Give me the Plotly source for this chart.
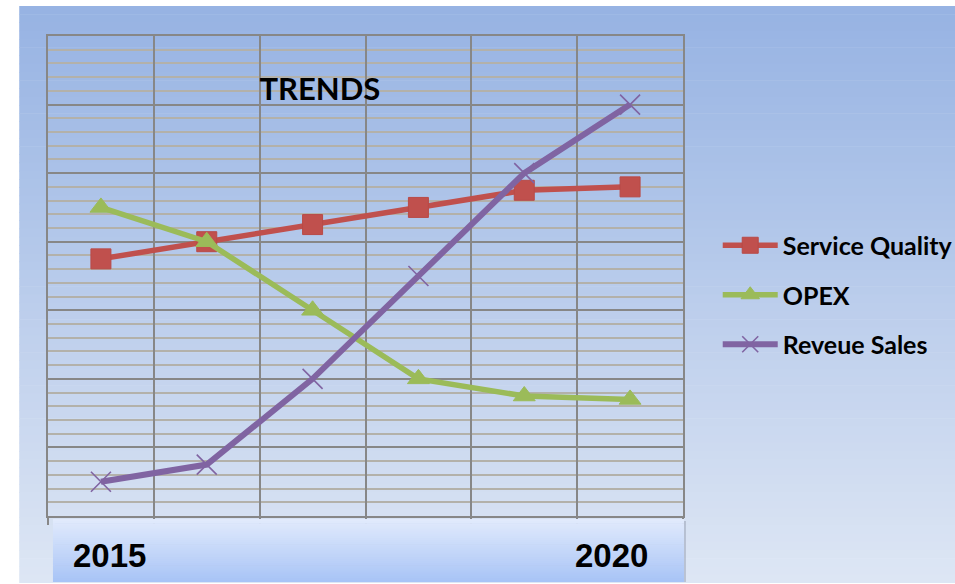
import plotly.graph_objects as go

# ---- data ----
years = [2015, 2016, 2017, 2018, 2019, 2020]
service_quality = [37.5, 40, 42.5, 45, 47.5, 48]
opex = [45, 40, 30, 20, 17.5, 17]
revenue_sales = [5, 7.5, 20, 35, 50, 60]
series_names = ["Service Quality", "OPEX", "Reveue Sales"]
title_text = "TRENDS"

SX = 970 / 955  # horizontal compensation
W, H = 970, 584
L, R, T, B = 47 * SX, 687 * SX, 36, 516  # plot area in px


def px_x(px):
    return (px * SX - L) / (R - L)


def px_y(py):
    return (B - py) / (B - T)


def lerp(c1, c2, t):
    return "rgb(%d,%d,%d)" % tuple(round(a + (b - a) * t) for a, b in zip(c1, c2))


shapes = []
# background gradient (stripes)
bg_top, bg_bot = (151, 179, 227), (221, 230, 244)
y_top, y_bot = 6, 583
n = 70
for i in range(n):
    ya = y_top + (y_bot - y_top) * i / n
    yb = y_top + (y_bot - y_top) * (i + 1) / n + 0.6
    shapes.append(dict(type="rect", xref="paper", yref="paper",
                       x0=px_x(18), x1=px_x(990), y0=px_y(min(yb, y_bot)), y1=px_y(ya),
                       fillcolor=lerp(bg_top, bg_bot, i / (n - 1)), line=dict(width=0),
                       layer="below"))

# category label box (gradient) with shadow
bx0, bx1, by0, by1 = 52, 688, 519, 582
shapes.append(dict(type="rect", xref="paper", yref="paper",
                   x0=px_x(bx0 + 2), x1=px_x(bx1 + 2), y0=px_y(by1), y1=px_y(by0 + 2),
                   fillcolor="rgba(120,130,150,0.35)", line=dict(width=0), layer="above"))
box_top, box_bot = (225, 234, 252), (168, 196, 246)
m = 30
for i in range(m):
    ya = by0 + (by1 - by0) * i / m
    yb = by0 + (by1 - by0) * (i + 1) / m + 0.6
    shapes.append(dict(type="rect", xref="paper", yref="paper",
                       x0=px_x(bx0), x1=px_x(bx1), y0=px_y(min(yb, by1)), y1=px_y(ya),
                       fillcolor=lerp(box_top, box_bot, i / (m - 1)), line=dict(width=0),
                       layer="above"))

fig = go.Figure()
fig.add_trace(go.Scatter(
    x=years, y=service_quality, name=series_names[0], mode="lines+markers",
    line=dict(color="#c0504d", width=5.5),
    marker=dict(symbol="square", size=20, color="#c0504d",
                line=dict(color="#b84a47", width=1)),
    legendgroup="g1"))
fig.add_trace(go.Scatter(
    x=years, y=opex, name=series_names[1], mode="lines+markers",
    line=dict(color="#9bbb59", width=5.5),
    marker=dict(symbol="triangle-up", size=19, color="#9bbb59",
                line=dict(color="#9bbb59", width=1)),
    legendgroup="g2"))
fig.add_trace(go.Scatter(
    x=years, y=revenue_sales, name=series_names[2], mode="lines+markers",
    line=dict(color="#8064a2", width=6),
    marker=dict(symbol="x-thin", size=20, color="#8064a2",
                line=dict(color="#8064a2", width=1.6)),
    legendgroup="g3"))

year_font = dict(family="Liberation Sans", size=33, color="#000")
annotations = [
    dict(text="<b>%d</b>" % years[0], xref="paper", yref="paper",
         x=px_x(109), y=px_y(555), xanchor="center", yanchor="middle",
         showarrow=False, font=year_font),
    dict(text="<b>%d</b>" % years[-1], xref="paper", yref="paper",
         x=px_x(615), y=px_y(555), xanchor="center", yanchor="middle",
         showarrow=False, font=year_font),
]

grid_major = "#878787"
fig.update_layout(
    width=W, height=H, autosize=False,
    margin=dict(l=L, r=W - R, t=T, b=H - B, pad=0),
    paper_bgcolor="white", plot_bgcolor="rgba(0,0,0,0)",
    shapes=shapes, annotations=annotations,
    title=dict(text="<b>%s</b>" % title_text, xref="paper", yref="paper",
               x=px_x(321), y=px_y(89), xanchor="center", yanchor="middle",
               font=dict(family="Lato", size=31, color="#000")),
    showlegend=True,
    legend=dict(x=px_x(722), y=px_y(295), xanchor="left", yanchor="middle",
                bgcolor="rgba(0,0,0,0)", itemwidth=55, tracegroupgap=14,
                font=dict(family="Lato", size=25, color="#000", weight="bold")),
    xaxis=dict(range=[years[0] - 0.5, years[-1] + 0.5], tick0=years[0] - 0.5, dtick=1,
               showgrid=True, gridcolor=grid_major, gridwidth=2,
               showline=True, mirror=True, linecolor=grid_major, linewidth=2,
               ticks="outside", ticklen=7, tickcolor=grid_major, tickwidth=2,
               showticklabels=False, zeroline=False, fixedrange=True),
    yaxis=dict(range=[0, 70], dtick=10, tick0=0,
               showgrid=True, gridcolor=grid_major, gridwidth=2,
               minor=dict(dtick=2, showgrid=True, gridcolor="#b3b1aa", gridwidth=2),
               showline=True, mirror=True, linecolor=grid_major, linewidth=2,
               showticklabels=False, zeroline=False, ticks="", fixedrange=True),
)

fig.write_html("out.html",
               config={"responsive": False, "displayModeBar": False},
               post_script="document.body.style.margin='0';document.body.style.overflow='hidden';")
